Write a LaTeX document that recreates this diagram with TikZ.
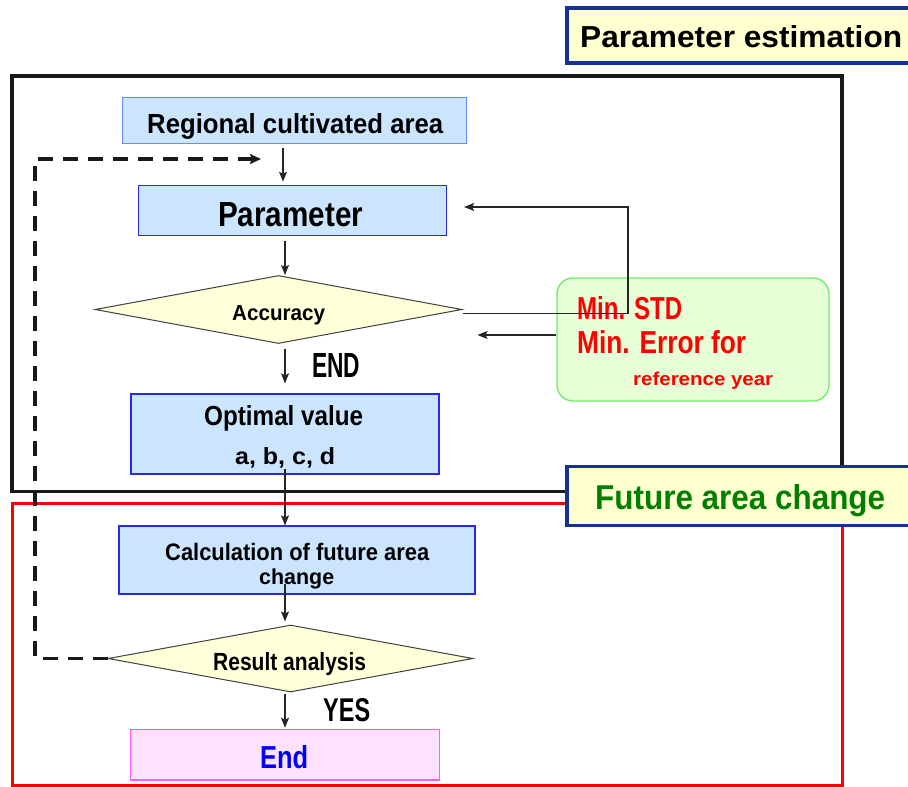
\documentclass[tikz,border=0pt]{standalone}
\usepackage{fontspec}
\setmainfont{Liberation Sans}
\usepackage{graphicx}
\usetikzlibrary{shapes.geometric,arrows.meta,calc}
\definecolor{boxblue}{RGB}{204,229,255}
\definecolor{lineblue}{RGB}{40,40,240}
\definecolor{lightline}{RGB}{100,140,255}
\definecolor{dia}{RGB}{255,255,218}
\definecolor{titlefill}{RGB}{255,255,208}
\definecolor{titleline}{RGB}{20,50,150}
\definecolor{gfill}{RGB}{230,255,214}
\definecolor{gline}{RGB}{110,235,100}
\definecolor{efill}{RGB}{252,226,252}
\definecolor{eline}{RGB}{255,90,255}
\definecolor{ftgreen}{RGB}{0,128,0}
\definecolor{endblue}{RGB}{0,0,255}
\newcommand{\fitxt}[3]{\resizebox{#1pt}{#2pt}{\bfseries #3}}
\begin{document}
\begin{tikzpicture}[x=1pt,y=-1pt,
  procbox/.style={rectangle, draw=lineblue, line width=1.2pt, fill=boxblue, inner sep=0},
  decide/.style={diamond, draw=black!75, line width=1pt, fill=dia, inner sep=0},
  titlebox/.style={rectangle, draw=titleline, line width=3.5pt, fill=titlefill, inner sep=0},
  txt/.style={inner sep=0, anchor=base west},
  arr/.style={draw=black!85, line width=1.3pt, -{Stealth[length=10pt,width=8pt,inset=2pt]}},
  dashline/.style={draw=black!90, line width=3.2pt, dash pattern=on 15pt off 10pt, -{Stealth[length=11pt,width=10pt,inset=2pt]}},
  frame/.style={rectangle, inner sep=0}
]
\useasboundingbox (0,0) rectangle (908,787);
\clip (0,0) rectangle (908,787);

% frames
\node[frame, draw=black!90, line width=3.5pt, minimum width=830pt, minimum height=415.5pt] (pframe) at (427,283.75) {};
\node[frame, draw=red, line width=3pt, minimum width=830pt, minimum height=282pt] (fframe) at (427,644) {};

% title boxes
\node[titlebox, minimum width=420pt, minimum height=55pt] (pe) at (777,35.5) {};
\node[txt] (pet) at (580,47) {\fitxt{322}{22}{Parameter estimation}};
\node[titlebox, minimum width=420pt, minimum height=59pt] (fa) at (777,496) {};
\node[txt, text=ftgreen] (fat) at (595,509) {\fitxt{290}{25}{Future area change}};

% process nodes
\node[procbox, draw=lightline, line width=1pt, minimum width=344pt, minimum height=46pt] (reg) at (294,120.3) {};
\node[txt] (regt) at (147,133) {\fitxt{296}{20}{Regional cultivated area}};

\node[procbox, minimum width=308pt, minimum height=50pt] (par) at (292.5,210.3) {};
\node[txt] (part) at (218,226) {\fitxt{145}{24}{Parameter}};

\node[decide, minimum width=367pt, minimum height=68pt] (acc) at (278.5,309.5) {};
\node[txt] (acct) at (232,320) {\fitxt{93}{15}{Accuracy}};
\node[txt] (endl) at (312,377) {\fitxt{48}{24}{END}};

\node[procbox, minimum width=308pt, minimum height=80pt] (opt) at (285,434) {};
\node[txt] (optt) at (204,425) {\fitxt{159}{20}{Optimal value}};
\node[txt] (optv) at (235,464) {\fitxt{100}{17}{a, b, c, d}};

\node[rectangle, rounded corners=16pt, draw=gline, line width=1.3pt, fill=gfill, minimum width=272pt, minimum height=123pt] (crit) at (693,339.5) {};
\node[txt, text=red] (c1) at (577,319) {\fitxt{105}{23}{Min. STD}};
\node[txt, text=red] (c2) at (577,353) {\fitxt{169}{23}{Min. Error for}};
\node[txt, text=red] (c3) at (633,385) {\fitxt{140}{13.5}{reference year}};

\node[procbox, minimum width=356pt, minimum height=68pt] (calc) at (297,560) {};
\node[txt] (calt1) at (165,560) {\fitxt{264}{17.3}{Calculation of future area}};
\node[txt] (calt2) at (259,584) {\fitxt{75}{15.7}{change}};

\node[decide, minimum width=365pt, minimum height=67pt] (res) at (290.5,658.5) {};
\node[txt] (rest) at (213,670) {\fitxt{153}{18}{Result analysis}};
\node[txt] (yesl) at (323,721) {\fitxt{47}{23}{YES}};

\node[rectangle, draw=eline, line width=1.2pt, fill=efill, inner sep=0, minimum width=308.6pt, minimum height=50.7pt] (endb) at (285,754.7) {};
\node[txt, text=endblue] (endt) at (260,768) {\fitxt{48}{23}{End}};

% connectors
\coordinate (col) at (285,0);
\draw[arr] ($(reg.south-|col)+(-2,4)$) -- ($(par.north-|col)+(-2,-3)$);
\draw[arr] ($(par.south-|col)+(0,5)$) -- (acc.north-|col);
\draw[arr] ($(acc.south-|col)+(0,5)$) -- ($(opt.north-|col)+(0,-10)$);
\draw[arr] ($(opt.south-|col)+(0,-6)$) -- (calc.north-|col);
\draw[arr] ($(calc.south-|col)+(0,-11)$) -- ($(res.north-|col)+(0,-3)$);
\draw[arr] ($(res.south-|col)+(0,1)$) -- ($(endb.north-|col)+(0,-1)$);

\coordinate (fb) at (628,207);
\draw[arr] ($(acc.east)+(0,4)$) -| (fb) -- ($(par.east |- fb)+(17,0)$);
\draw[arr] ($(crit.west)+(0,-4.5)$) -- ($(acc.east |- crit.west)+(15,-4.5)$);

\coordinate (dc) at (35,159);
\coordinate (dtip) at (261,159);
\draw[dashline] (res.west) -| (dc) -- (dtip);
\end{tikzpicture}
\end{document}
